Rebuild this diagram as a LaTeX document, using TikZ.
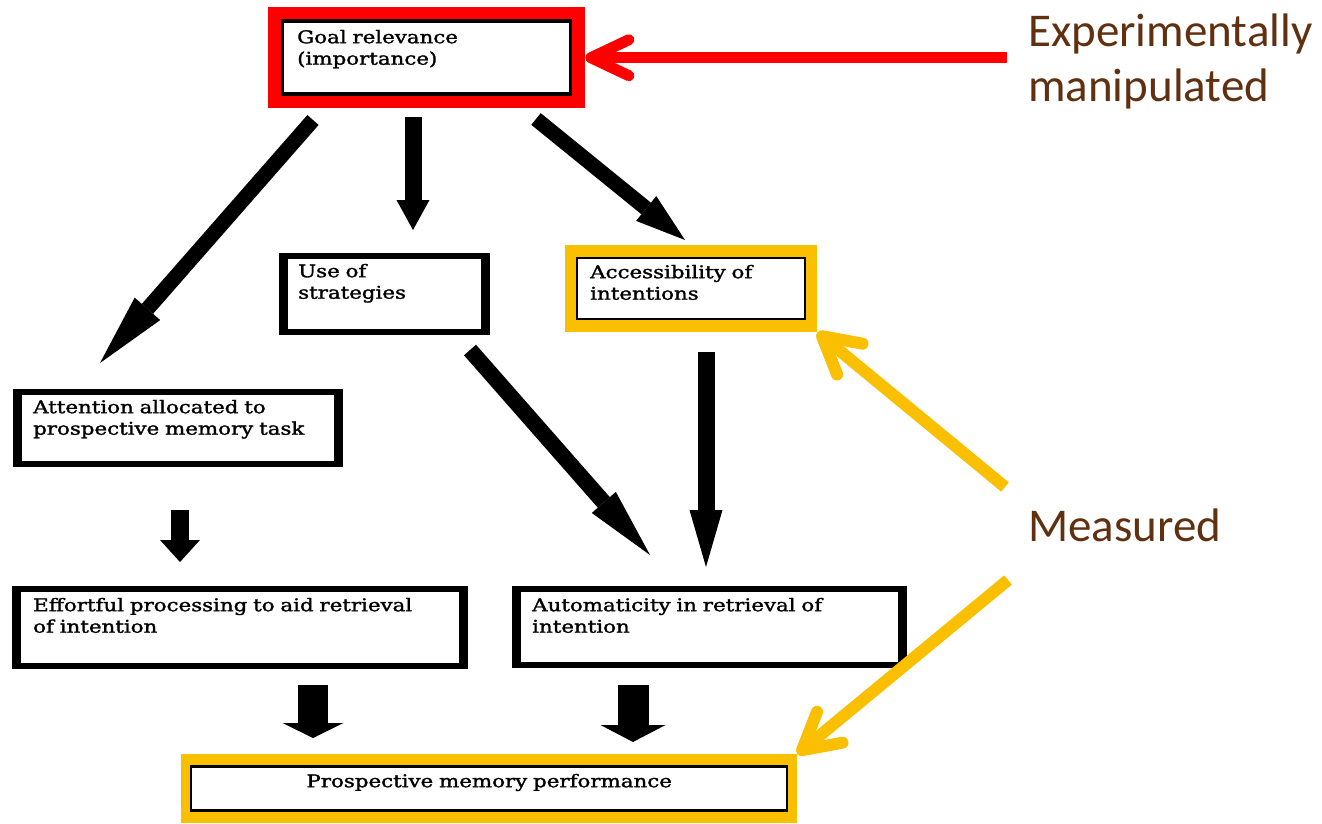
\documentclass[tikz,border=0pt]{standalone}
\usepackage{fontspec}
\usetikzlibrary{arrows.meta,calc}
\newfontfamily\boxfont[FakeStretch=1.22,FakeBold=1.6]{DejaVu Serif}
\newfontfamily\lblfont{Carlito}
\definecolor{yel}{RGB}{250,192,0}
\definecolor{brn}{RGB}{96,48,16}
\begin{document}
\begin{tikzpicture}[x=1pt,y=-1pt,
  frame/.style n args={5}{fill=#1, path picture={
     \fill[black] ([shift={(#2,#3)}]path picture bounding box.north west) rectangle ([shift={(-#2,-#3)}]path picture bounding box.south east);
     \fill[white] ([shift={(#4,#5)}]path picture bounding box.north west) rectangle ([shift={(-#4,-#5)}]path picture bounding box.south east);}},
  blackframe/.style={frame={black}{0}{0}{9}{6}},
  box/.style={anchor=north west, inner ysep=0pt, align=left, text=black,
     font=\boxfont\fontsize{17.5}{21.5}\selectfont},
  lbl/.style={font=\lblfont\fontsize{47}{55}\selectfont, text=brn, align=left, inner sep=0pt, anchor=base west},
  blk/.style n args={3}{draw=black, line width=#1pt, -{Triangle[width=#2pt, length=#3pt, line width=0pt]}},
  redarr/.style={draw=red, line width=11pt, -{Straight Barb[length=38pt, width=36pt, round]}},
  yelarr/.style={draw=yel, line width=12pt, -{Straight Barb[length=36pt, width=40pt, round]}}
]
\fill[white] (0,0) rectangle (1322,824);
\useasboundingbox (0,0) rectangle (1322,824);

% boxes
\node[box, frame={red}{13}{12}{16}{16}, text width=259pt, inner xsep=29pt, text height=36pt, text depth=65pt] (goal) at (268,7) {Goal relevance\\(importance)};
\node[box, blackframe, text width=173pt, inner xsep=19pt, text height=24pt, text depth=58pt] (use) at (279,253) {Use of\\strategies};
\node[box, frame={yel}{11}{12}{13}{14}, text width=202pt, inner xsep=25pt, text height=33pt, text depth=54pt] (access) at (565,245) {Accessibility of\\intentions};
\node[box, blackframe, text width=290pt, inner xsep=20pt, text height=24pt, text depth=54pt] (attn) at (13,389) {Attention allocated to\\prospective memory task};
\node[box, blackframe, text width=414pt, inner xsep=21pt, text height=25pt, text depth=58pt] (effort) at (12,586) {Effortful processing to aid retrieval\\of intention};
\node[box, blackframe, text width=355pt, inner xsep=20pt, text height=25pt, text depth=57pt] (auto) at (512,586) {Automaticity in retrieval of\\intention};
\node[box, frame={yel}{9}{11}{11}{14}, align=center, text width=596pt, inner xsep=10pt, text height=33pt, text depth=36pt] (perf) at (181,754) {Prospective memory performance};

% labels
\node[lbl] (exp) at (1028,102) {Experimentally\\manipulated};
\node[lbl] (meas) at (1028,541) {Measured};

% black block arrows
\coordinate (a1s) at (313,120); \coordinate (a1e) at (100,363);
\coordinate (a2s) at (413,117); \coordinate (a2e) at (413,230);
\coordinate (a3s) at (536,119); \coordinate (a3e) at (685,240);
\coordinate (a4s) at (470,350); \coordinate (a4e) at (650,555);
\coordinate (a5s) at (706,352); \coordinate (a5e) at (706,567);
\coordinate (a6s) at (180,510); \coordinate (a6e) at (180,562);
\coordinate (a7s) at (313,685); \coordinate (a7e) at (313,738);
\coordinate (a8s) at (633,685); \coordinate (a8e) at (633,742);
\draw[blk={15}{34}{72}] (a1s) -- (a1e);
\draw[blk={17}{33}{30}] (a2s) -- (a2e);
\draw[blk={15}{32}{50}] (a3s) -- (a3e);
\draw[blk={16}{32}{70}] (a4s) -- (a4e);
\draw[blk={17}{33}{57}] (a5s) -- (a5e);
\draw[blk={18}{40}{22}] (a6s) -- (a6e);
\draw[blk={30}{61}{15}] (a7s) -- (a7e);
\draw[blk={31}{65}{17}] (a8s) -- (a8e);

% annotation arrows
\coordinate (rt) at (goal.east -| 1007,0);
\coordinate (y1) at (1005,487);
\coordinate (y2) at (1008,580);
\draw[redarr] (rt) -- (goal.east);
\draw[yelarr] (y1) -- (access.south east);
\draw[yelarr] (y2) -- (perf.north east);
\end{tikzpicture}
\end{document}
